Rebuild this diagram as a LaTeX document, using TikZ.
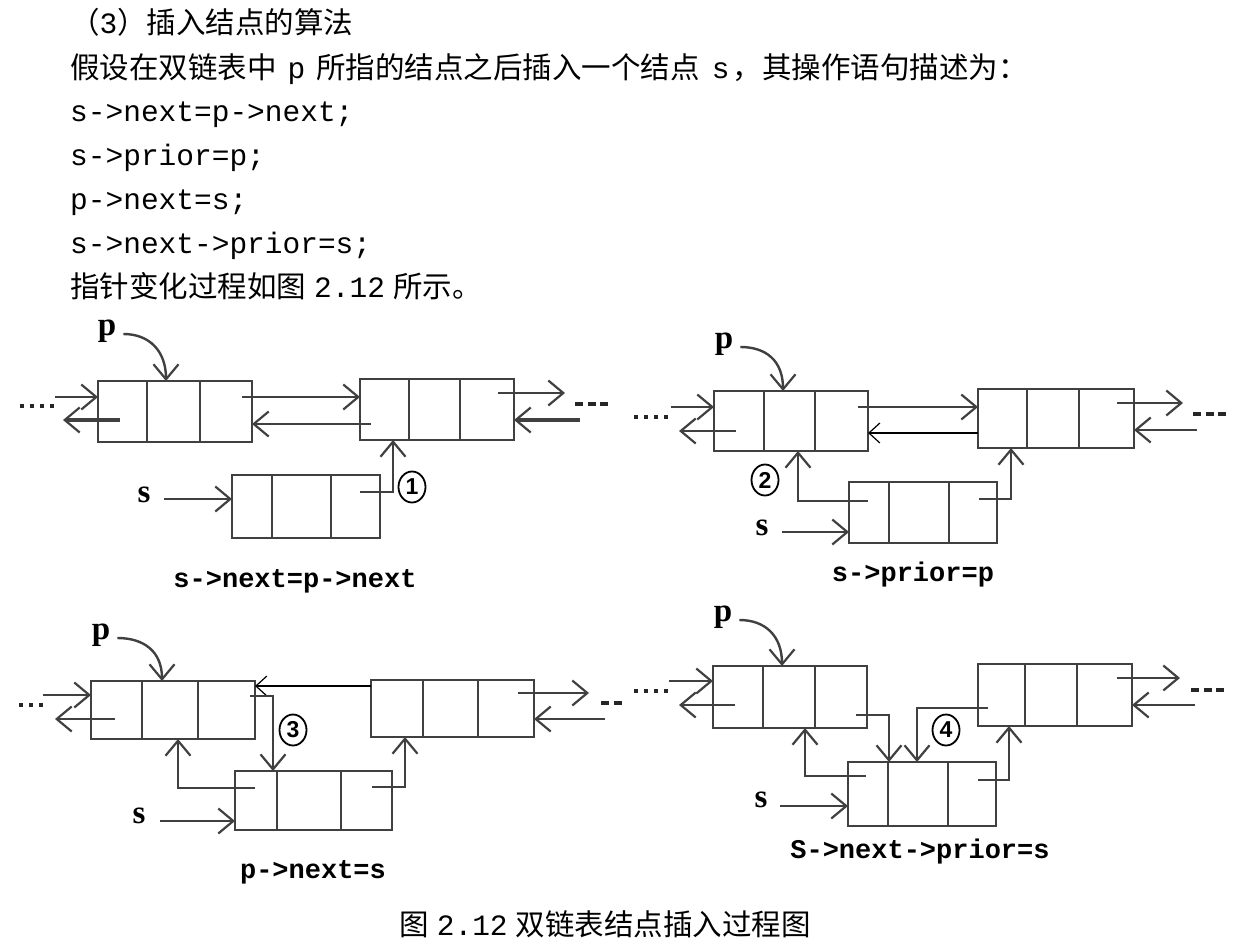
\documentclass[tikz,border=0pt]{standalone}
\usepackage{fontspec}
\setmainfont{Liberation Mono}
\newfontfamily\cjk{Noto Sans CJK SC}
\newfontfamily\lblserif{Liberation Serif}
\newfontfamily\capmono{Liberation Mono}
\newfontfamily\numsans{Liberation Sans}
\usetikzlibrary{arrows.meta,shapes.geometric}

\definecolor{lc}{gray}{0.25}

% one list element: three adjacent cells #1 1, #1 2, #1 3
% args: name, x0, x1, x2, x3 (cell borders), y top, y bottom
\newcommand\listnode[7]{%
  \node[cell, minimum width={#3-#2}, minimum height={#7-#6}] (#11) at ({(#2+#3)/2},{(#6+#7)/2}) {};
  \node[cell, minimum width={#4-#3}, minimum height={#7-#6}] (#12) at ({(#3+#4)/2},{(#6+#7)/2}) {};
  \node[cell, minimum width={#5-#4}, minimum height={#7-#6}] (#13) at ({(#4+#5)/2},{(#6+#7)/2}) {};
}

\tikzset{
  cell/.style={draw=lc, line width=2.6pt, inner sep=0pt, outer sep=0pt},
  ptr/.style={draw=lc, line width=2.4pt, -{Straight Barb[length=15pt,width=25pt,line width=2.2pt]}},
  heavy/.style={line width=4.2pt},
  thinptr/.style={draw=black, line width=1.2pt, -{Straight Barb[length=11pt,width=20pt,line width=1.2pt]}},
  dotrow/.style={draw=black!85, line width=3.6pt, dash pattern=on 4pt off 6pt},
  dashrow/.style={draw=black!85, line width=4pt, dash pattern=on 8pt off 4.5pt},
  txt/.style={anchor=base west, inner sep=0pt, font=\fontsize{29.5}{35}\selectfont},
  plbl/.style={inner sep=0pt, font=\lblserif\bfseries\fontsize{33}{33}\selectfont},
  caplbl/.style={inner sep=0pt, font=\capmono\bfseries\fontsize{27}{27}\selectfont},
  circnum/.style={ellipse, draw=black, line width=1.8pt, minimum width=27pt,
    minimum height=31pt, inner sep=0pt, font=\numsans\bfseries\fontsize{23}{23}\selectfont},
}

\begin{document}
\begin{tikzpicture}[x=1pt, y=-1pt]
\useasboundingbox (0,0) rectangle (1249,950);

% ---------------- text above the figure ----------------
\node[txt] (t1) at (70,34) {{\cjk （}3{\cjk ）插入结点的算法}};
\node[txt] (t2) at (70,78) {{\cjk 假设在双链表中}\hspace{11pt}p\hspace{11pt}{\cjk 所指的结点之后插入一个结点}\hspace{12pt}s\hspace{3pt}{\cjk ，其操作语句描述为：}};
\node[txt] (c1) at (70,121) {s->next=p->next;};
\node[txt] (c2) at (70,165) {s->prior=p;};
\node[txt] (c3) at (70,209) {p->next=s;};
\node[txt] (c4) at (70,253) {s->next->prior=s;};
\node[txt] (t3) at (70,297) {{\cjk 指针变化过程如图}\hspace{8pt}2.12\hspace{8pt}{\cjk 所示。}};

% ================= step 1 : s->next=p->next =================
\listnode{Ia}{98}{147}{200}{252}{381}{442}
\listnode{Ib}{360}{409}{460}{514}{379}{440}
\listnode{Is}{232}{272}{331}{380}{475}{538}
\node[plbl] (Ipl) at (107,331) {p};
\node[plbl] (Isl) at (144,495) {s};
\node[circnum] (I1) at (412,487) {1};
\node[caplbl] (Icap) at (295,581) {s->next=p->next};

\draw[dotrow] (20,406) -- (56,406);
\coordinate (Iin) at (55,397);
\draw[ptr] (Iin) -- (Ia1.west |- Iin);
\coordinate (Ia1p) at (120,420);
\coordinate (Iout) at (63,420);
\draw[ptr, heavy] (Ia1p) -- (Iout);
\coordinate (Ia3n) at (242,397);
\draw[ptr] (Ia3n) -- (Ib1.west |- Ia3n);
\coordinate (Ib1p) at (371,424);
\draw[ptr] (Ib1p) -- (Ia3.east |- Ib1p);
\coordinate (Ib3n) at (498,393);
\coordinate (Iout2) at (565,393);
\draw[ptr] (Ib3n) -- (Iout2);
\draw[dashrow] (575,404) -- (611,404);
\coordinate (Iin2) at (580,420);
\draw[ptr, heavy] (Iin2) -- (Ib3.east |- Iin2);
\coordinate (Ipt) at (166,381);
\draw[ptr] ([xshift=7pt,yshift=-3pt]Ipl.east) .. controls +(26,0) and +(0,-30) .. (Ipt |- Ia2.north);
\coordinate (Isa) at (164,499);
\draw[ptr] (Isa) -- (Is1.west |- Isa);
\coordinate (Is3n) at (360,492);
\coordinate (I1c) at (393,492);
\draw[ptr] (Is3n) -- (I1c) -- (I1c |- Ib1.south);

% ================= step 2 : s->prior=p =================
\listnode{Ja}{714}{764}{815}{868}{391}{451}
\listnode{Jb}{978}{1027}{1079}{1134}{389}{448}
\listnode{Js}{849}{889}{949}{997}{482}{543}
\node[plbl] (Jpl) at (724,344) {p};
\node[plbl] (Jsl) at (762,528) {s};
\node[circnum] (J2) at (765,480) {2};
\node[caplbl] (Jcap) at (913,575) {s->prior=p};

\draw[dotrow] (634,417) -- (672,417);
\coordinate (Jin) at (671,407);
\draw[ptr] (Jin) -- (Ja1.west |- Jin);
\coordinate (Ja1p) at (736,431);
\coordinate (Jout) at (679,431);
\draw[ptr] (Ja1p) -- (Jout);
\coordinate (Ja3n) at (858,407);
\draw[ptr] (Ja3n) -- (Jb1.west |- Ja3n);
\coordinate (Jbk) at (978,433);
\draw[thinptr] (Jbk) -- (Ja3.east |- Jbk);
\coordinate (Jb3n) at (1117,403);
\coordinate (Jout2) at (1183,403);
\draw[ptr] (Jb3n) -- (Jout2);
\draw[dashrow] (1193,414) -- (1229,414);
\coordinate (Jin2) at (1197,430);
\draw[ptr] (Jin2) -- (Jb3.east |- Jin2);
\coordinate (Jpt) at (783,391);
\draw[ptr] ([xshift=7pt,yshift=-3pt]Jpl.east) .. controls +(26,0) and +(0,-30) .. (Jpt |- Ja2.north);
\coordinate (Jsa) at (782,532);
\draw[ptr] (Jsa) -- (Js1.west |- Jsa);
\coordinate (Js1p) at (868,501);
\coordinate (J2c) at (798,501);
\draw[ptr] (Js1p) -- (J2c) -- (J2c |- Ja2.south);
\coordinate (Js3n) at (979,499);
\coordinate (Jnc) at (1011,499);
\draw[ptr] (Js3n) -- (Jnc) -- (Jnc |- Jb1.south);

% ================= step 3 : p->next=s =================
\listnode{Ka}{91}{142}{198}{255}{681}{739}
\listnode{Kb}{371}{423}{478}{534}{680}{737}
\listnode{Ks}{235}{277}{341}{392}{771}{830}
\node[plbl] (Kpl) at (101,635) {p};
\node[plbl] (Ksl) at (139,816) {s};
\node[circnum] (K3) at (293,730) {3};
\node[caplbl] (Kcap) at (313,872) {p->next=s};

\draw[dotrow] (19,705) -- (44,705);
\coordinate (Kin) at (43,695);
\draw[ptr] (Kin) -- (Ka1.west |- Kin);
\coordinate (Ka1p) at (115,719);
\coordinate (Kout) at (55,719);
\draw[ptr] (Ka1p) -- (Kout);
\coordinate (Kbk) at (371,686);
\draw[thinptr] (Kbk) -- (Ka3.east |- Kbk);
\coordinate (Ka3n) at (250,696);
\coordinate (K3c) at (273,696);
\draw[ptr] (Ka3n) -- (K3c) -- (K3c |- Ks1.north);
\coordinate (Kb3n) at (518,693);
\coordinate (Kout2) at (589,693);
\draw[ptr] (Kb3n) -- (Kout2);
\draw[dashrow] (601,703) -- (622,703);
\coordinate (Kin2) at (605,719);
\draw[ptr] (Kin2) -- (Kb3.east |- Kin2);
\coordinate (Kpt) at (162,681);
\draw[ptr] ([xshift=7pt,yshift=-3pt]Kpl.east) .. controls +(26,0) and +(0,-30) .. (Kpt |- Ka2.north);
\coordinate (Ksa) at (160,821);
\draw[ptr] (Ksa) -- (Ks1.west |- Ksa);
\coordinate (Ks1p) at (255,788);
\coordinate (K2c) at (178,788);
\draw[ptr] (Ks1p) -- (K2c) -- (K2c |- Ka2.south);
\coordinate (Ks3n) at (372,787);
\coordinate (Knc) at (405,787);
\draw[ptr] (Ks3n) -- (Knc) -- (Knc |- Kb1.south);

% ================= step 4 : s->next->prior=s =================
\listnode{La}{713}{763}{815}{867}{666}{728}
\listnode{Lb}{978}{1025}{1077}{1132}{664}{726}
\listnode{Ls}{848}{888}{948}{996}{762}{826}
\node[plbl] (Lpl) at (723,617) {p};
\node[plbl] (Lsl) at (761,800) {s};
\node[circnum] (L4) at (946,730) {4};
\node[caplbl] (Lcap) at (920,852) {S->next->prior=s};

\draw[dotrow] (634,691) -- (670,691);
\coordinate (Lin) at (669,681);
\draw[ptr] (Lin) -- (La1.west |- Lin);
\coordinate (La1p) at (735,705);
\coordinate (Lout) at (679,705);
\draw[ptr] (La1p) -- (Lout);
\coordinate (La3n) at (856,715);
\coordinate (L3c) at (889,715);
\draw[ptr] (La3n) -- (L3c) -- (L3c |- Ls2.north);
\coordinate (Lb1p) at (988,708);
\coordinate (L4c) at (917,708);
\draw[ptr] (Lb1p) -- (L4c) -- (L4c |- Ls2.north);
\coordinate (Lb3n) at (1117,678);
\coordinate (Lout2) at (1180,678);
\draw[ptr] (Lb3n) -- (Lout2);
\draw[dashrow] (1191,690) -- (1227,690);
\coordinate (Lin2) at (1195,705);
\draw[ptr] (Lin2) -- (Lb3.east |- Lin2);
\coordinate (Lpt) at (782,666);
\draw[ptr] ([xshift=7pt,yshift=-3pt]Lpl.east) .. controls +(26,0) and +(0,-30) .. (Lpt |- La2.north);
\coordinate (Lsa) at (780,806);
\draw[ptr] (Lsa) -- (Ls1.west |- Lsa);
\coordinate (Ls1p) at (866,776);
\coordinate (L2c) at (805,776);
\draw[ptr] (Ls1p) -- (L2c) -- (L2c |- La2.south);
\coordinate (Ls3n) at (978,780);
\coordinate (Lnc) at (1009,780);
\draw[ptr] (Ls3n) -- (Lnc) -- (Lnc |- Lb1.south);

% ---------------- figure caption ----------------
\node[txt, anchor=base] (fig) at (605,935) {{\cjk 图}\hspace{8pt}2.12\hspace{8pt}{\cjk 双链表结点插入过程图}};
\end{tikzpicture}
\end{document}
